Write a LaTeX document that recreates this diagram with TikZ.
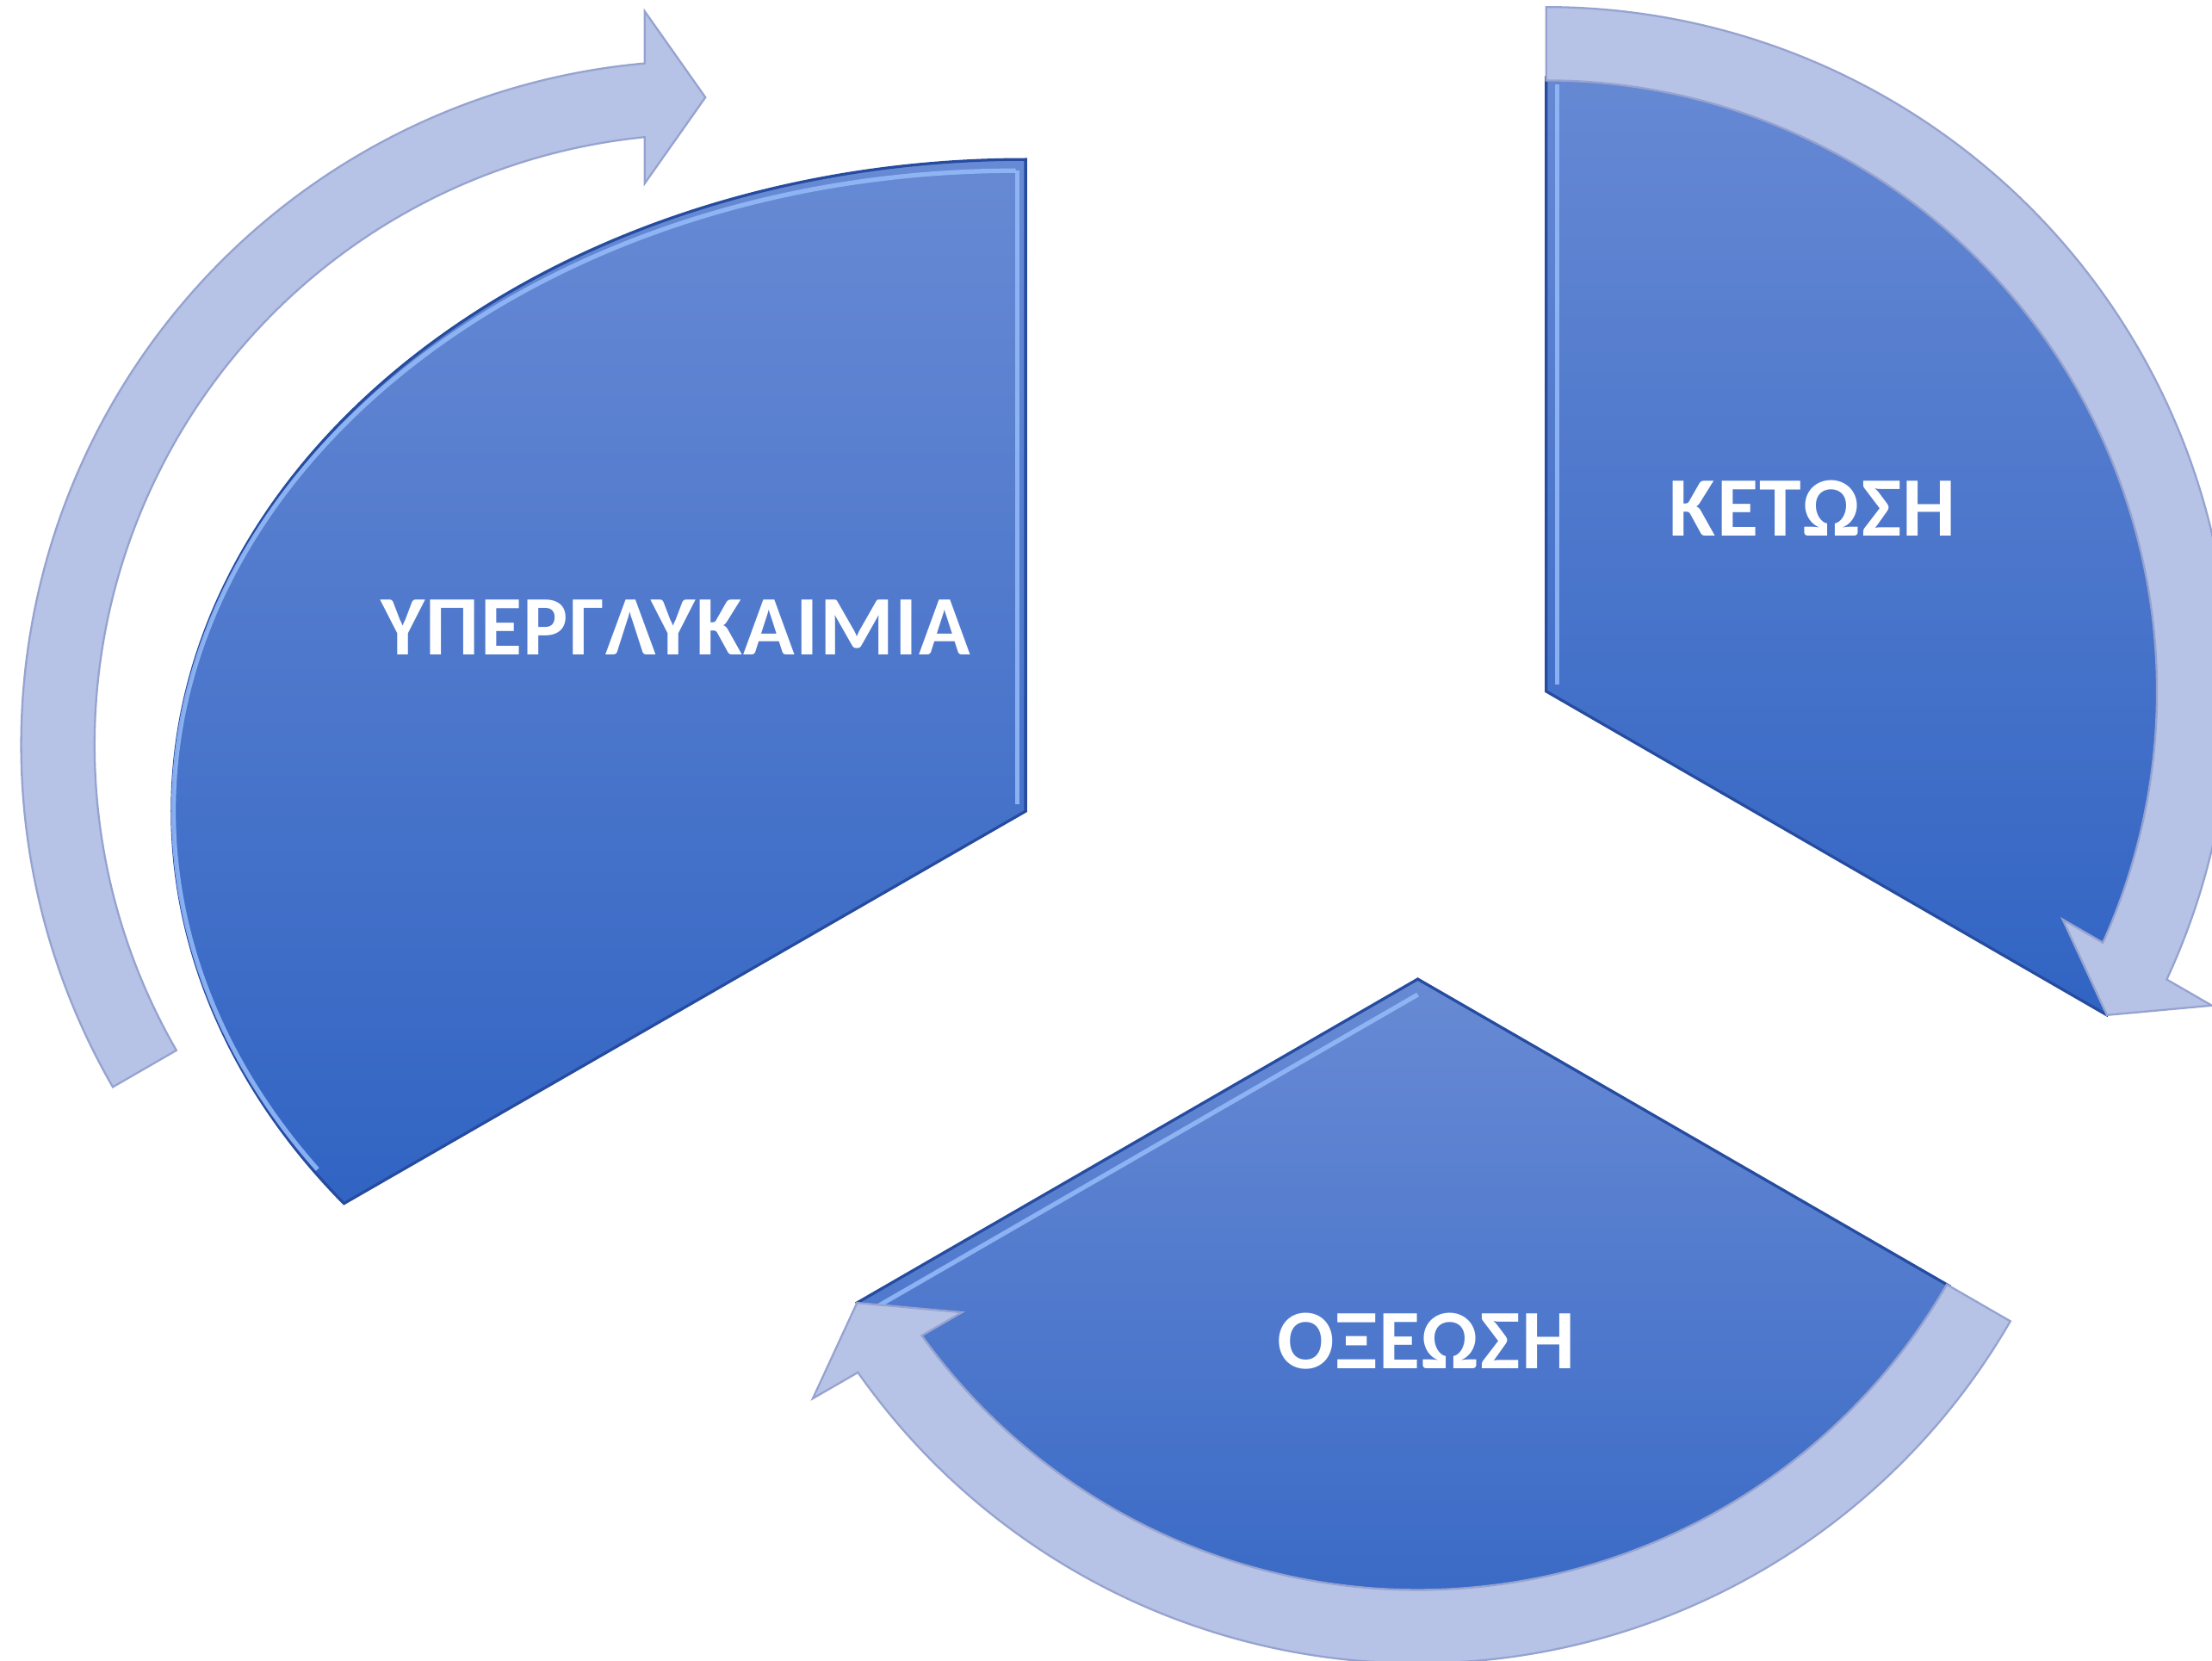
\documentclass[tikz,border=0pt]{standalone}
\usepackage{fontspec}
\setmainfont{Carlito}
\definecolor{arrowfill}{RGB}{182,195,230}
\definecolor{arrowline}{RGB}{150,163,208}
\definecolor{btop}{RGB}{104,138,212}
\definecolor{bmid}{RGB}{66,118,214}
\definecolor{bbot}{RGB}{49,100,195}
\definecolor{bedge}{RGB}{38,76,160}
\definecolor{bhl}{RGB}{150,188,250}
\tikzset{
  segfill/.style={top color=btop, middle color=bmid, bottom color=bbot},
  segedge/.style={draw=bedge, line width=1},
  seghl/.style={draw=bhl, line width=1.6, opacity=0.85},
  cyclearrowstyle/.style={fill=arrowfill, draw=arrowline, line width=0.7, line join=miter},
  seglabel/.style={text=white, font=\bfseries\fontsize{30}{33}\selectfont\addfontfeature{LetterSpace=1.5}, inner sep=0pt}
}
% #1 centre, #2 tail angle; tip at #2+120
\newcommand\cyclearrow[2]{%
  \path[cyclearrowstyle] ([shift={(#1)}]#2:485)
    arc[start angle=#2, end angle={#2+120-5.09}, radius=485]
    -- ([shift={(#1)}]{#2+120-4.73}:521.8)
    -- ([shift={(#1)}]{#2+120}:459)
    -- ([shift={(#1)}]{#2+120-6.17}:400.3)
    -- ([shift={(#1)}]{#2+120-5.70}:433)
    arc[start angle={#2+120-5.70}, end angle=#2, radius=433] -- cycle;}
\begin{document}
\begin{tikzpicture}[x=0.5pt, y=-0.5pt]
\useasboundingbox (0,0) rectangle (1568,1177);
\clip (0,0) rectangle (1568,1177);
\fill[white] (0,0) rectangle (1568,1177);

% centres
\coordinate (c1) at (727,575);
\coordinate (c2) at (1096,490);
\coordinate (c3) at (1005,694);
\coordinate (a1) at (500,528);

% segment 1
\shade[segfill] (c1) -- (727,113) arc[start angle=270, end angle=143, x radius=605, y radius=462] -- cycle;
\draw[segedge] (c1) -- (727,113) arc[start angle=270, end angle=143, x radius=605, y radius=462] -- cycle;
\draw[seghl] (720,121) arc[start angle=270, end angle=146, x radius=597, y radius=454];
\draw[seghl] (721,121) -- (721,570);

% segment 2
\shade[segfill] (c2) -- ([shift={(c2)}]270:460) arc[start angle=270, end angle=390, radius=460] -- cycle;
\draw[segedge] ([shift={(c2)}]270:436) -- (c2) -- ([shift={(c2)}]30:460);
\draw[seghl] (1104,60) -- (1104,485);

% segment 3
\shade[segfill] (c3) -- ([shift={(c3)}]30:460) arc[start angle=30, end angle=150, radius=460] -- cycle;
\draw[segedge] ([shift={(c3)}]30:436) -- (c3) -- ([shift={(c3)}]150:460);
\draw[seghl] (1005,705) -- (622,926);

% arrows
\cyclearrow{a1}{150}
\cyclearrow{c2}{270}
\cyclearrow{c3}{30}

% labels
\node[seglabel] (t1) at (479,444.5) {ΥΠΕΡΓΛΥΚΑΙΜΙΑ};
\node[seglabel] (t2) at (1285,360.5) {ΚΕΤΩΣΗ};
\node[seglabel] (t3) at (1011,950.5) {ΟΞΕΩΣΗ};
\end{tikzpicture}
\end{document}
